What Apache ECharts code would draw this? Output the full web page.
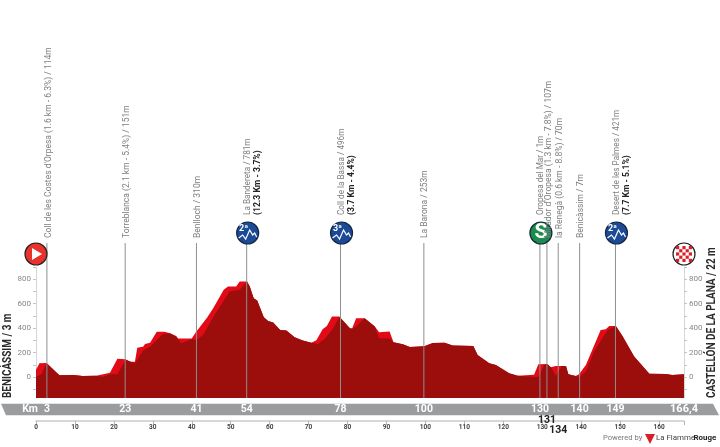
<!DOCTYPE html>
<html>
<head>
<meta charset="utf-8">
<style>html,body{margin:0;padding:0;background:#fff}#c{width:720px;height:447px}</style>
<script src="https://cdn.jsdelivr.net/npm/echarts@6/dist/echarts.min.js"></script>
</head>
<body>
<div id="c"></div>
<script>
// Bright red: the road profile (km, metres)
const profileKm = [0,0.9,2.7,6,9.6,12,15.5,16,19,20.9,23,24.2,25.4,26,27.5,28,29.3,31,33,34.4,36,36.5,40,41,44,45.5,48.2,49.3,51.4,52.3,54.2,54.9,55.9,56.8,58.5,59.6,60.9,62.7,64.3,66.4,68.5,70.7,72,73.6,74.7,76,77.9,78.8,80.6,81.2,82.2,84.4,87,88.1,90.8,91.8,94.2,96,99.7,101.9,104.9,107,112.3,113.4,113.8,116.4,118.1,121.5,123.7,127.9,129,131.3,132.2,133.5,136.1,136.7,138.6,139.5,141.2,145,146.3,147.2,148.9,150.6,153.6,157.5,161.7,163.4,166.4];
const profileElev = [60,112,114,14,16,8,11,22,35,150,145,125,125,240,248,270,281,371,371,358,336,314,314,363,489,563,713,740,740,781,781,740,645,625,489,459,445,385,380,325,298,281,300,390,418,495,495,462,399,399,481,481,413,366,372,284,268,246,251,279,281,257,254,180,167,112,98,30,11,19,104,107,79,90,90,22,8,25,98,385,390,418,418,336,167,27,25,16,22];
// Dark red: the shaded body in front of the climbs (km, metres)
const shadeKm = [0,1.45,2.7,6,9.6,12,15.5,17,19,20.9,23,23.7,25.4,27.5,29.3,32.6,34.4,36,37.3,40,41.2,42.9,45.5,49.7,52.3,54.2,54.9,55.9,56.8,58.5,59.6,60.9,62.7,64.3,66.4,68.5,70.7,72.4,74.3,76.3,77.9,78.8,80.6,81.2,82.2,84.4,87,88.1,90.8,91.8,94.2,96,99.7,101.9,104.9,107,112.3,113.4,113.8,116.4,118.1,121.5,123.7,127.9,129,130.5,131.3,132.2,133.5,135,136.1,136.7,138.6,139.5,141.2,143.3,146.8,148.9,150.6,153.6,157.5,161.7,163.4,166.4];
const shadeElev = [0,25,114,14,16,8,11,0,22,22,140,132,112,216,248,352,358,330,276,308,303,344,489,700,713,781,740,645,625,489,459,445,385,380,325,298,281,270,317,399,490,462,399,393,413,481,413,317,314,284,268,246,251,279,281,257,254,180,167,112,98,30,11,0,0,98,107,79,11,90,90,22,8,0,44,208,385,418,336,167,27,25,16,22];
// Route points along the stage
const pointKm = [2.8,22.9,41.2,54.1,78.2,99.6,129.4,131.2,134.1,139.6,148.8];
const pointNames = ["Coll de les Costes d'Orpesa (1.6 km - 6.3%) / 114m","Torreblanca (2.1 km - 5.4%) / 151m","Benlloch / 310m","La Bandereta / 781m","Coll de la Bassa / 496m","La Barona / 253m","Oropesa del Mar / 1m","Mirador d'Oropesa (1.3 km - 7.8%) / 107m","la Renegà (0.6 km - 8.8%) / 70m","Benicàssim / 7m","Desert de les Palmes / 421m"];
const pointDetails = ["","","","(12.3 Km - 3.7%)","(3.7 Km - 4.4%)","","","","","","(7.7 Km - 5.1%)"];
const pointBadges = ["","","","2ª","3ª","","S","","","","2ª"];
const barLabels = ["3","23","41","54","78","100","130","131","134","140","149"];
const startLabel = "BENICÀSSIM / 3 m";
const finishLabel = "CASTELLÓN DE LA PLANA / 22 m";
const finishKm = 166.4;
const finishBarLabel = "166,4";
const xTickLabels = [0,10,20,30,40,50,60,70,80,90,100,110,120,130,140,150,160];
const yTickLabels = [0,200,400,600,800];
const yMinorTicks = [-100,0,100,200,300,400,500,600,700,800,900];

const narrow = "'Liberation Sans Narrow','Roboto',sans-serif";
const grey = '#7c7f81';

function pair(xs, ys){ return xs.map((x,i)=>[x,ys[i]]); }

function badge(cx, cy, text){
  const green = text === 'S';
  const kids = [
    {type:'circle',shape:{cx,cy,r:11},style:{fill:green?'#1c8c4c':'#1b4b96',stroke:'#16263f',lineWidth:1.2}}
  ];
  if(green){
    kids.push({type:'text',x:cx,y:cy,style:{text:'S',fill:'#fff',font:"bold 21px "+narrow,align:'center',verticalAlign:'middle'}});
  } else {
    kids.push({type:'polyline',shape:{points:[[cx-9,cy+5],[cx-5,cy+2],[cx-2,cy+6],[cx+2,cy-3],[cx+5,cy+2],[cx+7,cy],[cx+9,cy+4]]},style:{fill:'none',stroke:'#fff',lineWidth:1.2}});
    kids.push({type:'text',x:cx-4,y:cy-4,style:{text,fill:'#fff',font:"bold 9px "+narrow,align:'center',verticalAlign:'middle'}});
  }
  return kids;
}

function renderPoint(params, api){
  const i = params.dataIndex;
  const x = api.coord([api.value(0),0])[0];
  const yBottom = api.coord([0,-172])[1];
  const kids = [
    {type:'line',shape:{x1:x,y1:243,x2:x,y2:yBottom},style:{stroke:'#8d8f91',lineWidth:1}}
  ];
  const hasMark = pointBadges[i] !== '';
  const yText = (hasMark) ? 215 : 238;
  kids.push({type:'text',x:x+1.5,y:yText,rotation:Math.PI/2,style:{text:pointNames[i],fill:grey,font:(hasMark?"8.2px":"8.5px")+" Roboto,sans-serif",align:'left',verticalAlign:'middle'}});
  if(pointDetails[i]){
    kids.push({type:'text',x:x+11,y:yText,rotation:Math.PI/2,style:{text:pointDetails[i],fill:'#222',font:"bold 8.6px "+narrow,align:'left',verticalAlign:'middle'}});
  }
  if(hasMark) kids.push.apply(kids,badge(x+1,233,pointBadges[i]));
  const below = i===7 ? 420 : i===8 ? 430 : 409.5;
  kids.push({type:'text',x,y:below,style:{text:barLabels[i],fill:below===409.5?'#fff':'#222',font:"bold 10.5px "+narrow,align:'center',verticalAlign:'middle'}});
  return {type:'group',children:kids};
}

function renderEnd(params, api){
  const km = api.value(0);
  const x = api.coord([km,0])[0];
  const cy = 254;
  const yBottom = api.coord([0,-172])[1];
  if(params.dataIndex === 0){
    return {type:'group',children:[
      {type:'circle',shape:{cx:x,cy,r:11},style:{fill:'#e8322c',stroke:'#222',lineWidth:1.2}},
      {type:'polygon',shape:{points:[[x-4,cy-6],[x-4,cy+6],[x+6,cy]]},style:{fill:'#fff'}},
      {type:'text',x:8,y:yBottom,rotation:Math.PI/2,scaleX:0.83,style:{text:startLabel,fill:'#2a2a2a',font:"bold 12px "+narrow,align:'left',verticalAlign:'middle'}}
    ]};
  }
  const kids = [{type:'circle',shape:{cx:x,cy,r:11},style:{fill:'#fff',stroke:'#222',lineWidth:1.2}}];
  const s = 3.2;
  for(let r=-3;r<=3;r++){ for(let c=-3;c<=3;c++){
    if((r+c)%2!==0) continue;
    if(Math.hypot(r*s,c*s)>9.5) continue;
    kids.push({type:'rect',shape:{x:x+c*s-s/2,y:cy+r*s-s/2,width:s,height:s},style:{fill:'#d81f2a'}});
  }}
  kids.push({type:'text',x:x,y:409.5,style:{text:finishBarLabel,fill:'#fff',font:"bold 11px "+narrow,align:'center',verticalAlign:'middle'}});
  kids.push({type:'text',x:712,y:yBottom,rotation:Math.PI/2,scaleX:0.83,style:{text:finishLabel,fill:'#2a2a2a',font:"bold 12px "+narrow,align:'left',verticalAlign:'middle'}});
  return {type:'group',children:kids};
}

const yAxisCommon = {
  type:'value',min:-172,max:900,
  splitLine:{show:false},
  axisLine:{show:true,lineStyle:{color:'#d4d5d6',width:1}},
  axisTick:{show:true,length:3,lineStyle:{color:'#c4c5c6'},customValues:yMinorTicks},
  axisLabel:{color:'#85878a',fontSize:8,fontFamily:'Roboto,sans-serif',margin:5,customValues:yTickLabels}
};

const chart = echarts.init(document.getElementById('c'));
chart.setOption({
  animation:false,
  backgroundColor:'#fff',
  grid:{left:36,right:36,top:267,bottom:49},
  xAxis:{
    type:'value',min:0,max:finishKm,offset:23,position:'bottom',
    splitLine:{show:false},
    axisLine:{onZero:false,lineStyle:{color:'#c9cacb',width:1.5}},
    axisTick:{length:4,lineStyle:{color:'#b5b6b7'},customValues:xTickLabels.concat([finishKm])},
    axisLabel:{color:'#444',fontSize:6.5,fontFamily:narrow,fontWeight:'bold',margin:3,customValues:xTickLabels}
  },
  yAxis:[
    Object.assign({position:'left'},yAxisCommon),
    Object.assign({position:'right'},yAxisCommon)
  ],
  graphic:[
    {type:'polygon',z:0,shape:{points:[[1,403.7],[713,403.7],[719,415.3],[6,415.3]]},style:{fill:'#9a9c9e'}},
    {type:'text',z:1,x:30,y:409.5,style:{text:'Km',fill:'#fff',font:"bold 10.5px "+narrow,align:'center',verticalAlign:'middle'}},
    {type:'text',x:603,y:438.5,style:{text:'Powered by',fill:'#77797b',font:"7.6px Roboto,sans-serif",align:'left',verticalAlign:'middle'}},
    {type:'polygon',shape:{points:[[645,434],[655,434],[650,444]]},style:{fill:'#d81f2a'}},
    {type:'text',x:656,y:438.5,style:{text:'La Flamme',fill:'#444',font:"7.9px Roboto,sans-serif",align:'left',verticalAlign:'middle'}},
    {type:'text',x:693.5,y:438.5,style:{text:'Rouge',fill:'#222',font:"bold 7.9px Roboto,sans-serif",align:'left',verticalAlign:'middle'}}
  ],
  series:[
    {type:'line',name:'Profile',data:pair(profileKm,profileElev),showSymbol:false,symbol:'none',z:2,
      lineStyle:{width:0},areaStyle:{color:'#e30a17',opacity:1,origin:'start'}},
    {type:'line',name:'Shade',data:pair(shadeKm,shadeElev),showSymbol:false,symbol:'none',z:3,
      lineStyle:{width:0},areaStyle:{color:'#9b0e0c',opacity:1,origin:'start'}},
    {type:'custom',name:'Points',z:5,renderItem:renderPoint,data:pointKm.map(k=>[k,0]),clip:false},
    {type:'custom',name:'Ends',z:6,renderItem:renderEnd,data:[[0,0],[finishKm,0]],clip:false}
  ]
});
</script>
</body>
</html>
